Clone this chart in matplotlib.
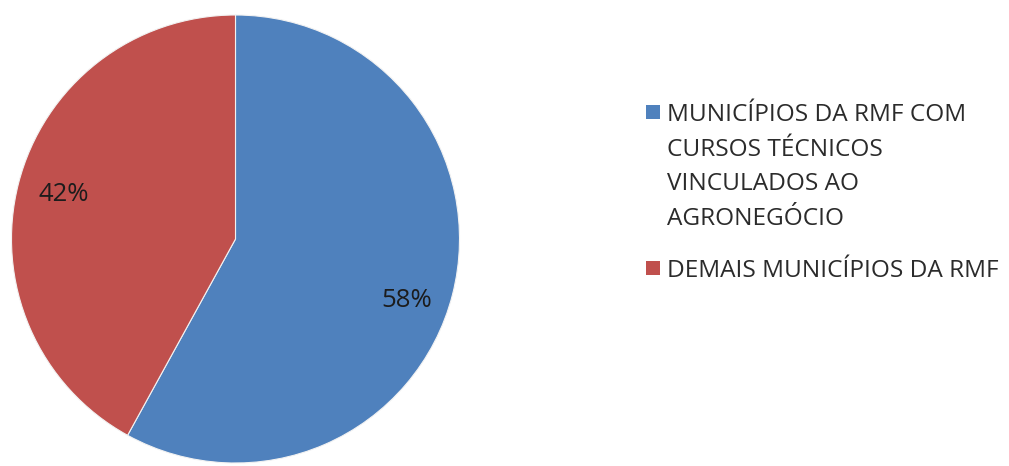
import numpy as np
import matplotlib
matplotlib.use("Agg")
import matplotlib.pyplot as plt
from matplotlib.patches import Rectangle

# Dados do gráfico
categorias = ["MUNICÍPIOS DA RMF COM\nCURSOS TÉCNICOS\nVINCULADOS AO\nAGRONEGÓCIO",
              "DEMAIS MUNICÍPIOS DA RMF"]
valores = [58, 42]
cores = ["#4F81BD", "#C0504D"]

plt.rcParams['font.family'] = ['Open Sans', 'DejaVu Sans']

W, H = 1009, 466
fig = plt.figure(figsize=(W / 100, H / 100), dpi=100)
fig.patch.set_facecolor("white")

# area da pizza em pixels: centro (235.5, 239), raio 224
cx, cy, r = 235.5, 239, 224
ax = fig.add_axes([(cx - r) / W, (H - cy - r) / H, 2 * r / W, 2 * r / H])
wedges, _, autotexts = ax.pie(valores, colors=cores, startangle=90, counterclock=False,
                              autopct='%1.0f%%', pctdistance=0.79, radius=1.0,
                              wedgeprops=dict(edgecolor="#f2f2f2", linewidth=0.8),
                              textprops=dict(fontsize=18.5, color="#1c1c1c"))
ax.set_xlim(-1, 1)
ax.set_ylim(-1, 1)
ax.set_aspect("equal")
ax.axis("off")

# rotulo de 58% fica um pouco mais abaixo
x0, y0 = autotexts[0].get_position()
autotexts[0].set_position((x0, y0 - 0.08))

# legenda desenhada a mao, texto em varias linhas
def px(x, y):
    return x / W, 1 - y / H

tops = [105, 261]
sq = 14
line_h = 34.7
for cat, cor, top in zip(categorias, cores, tops):
    fig.add_artist(Rectangle(px(646, top + sq), sq / W, sq / H,
                             transform=fig.transFigure, facecolor=cor, edgecolor="none"))
    for i, linha in enumerate(cat.split("\n")):
        fig.text(*px(667, top + 16 + i * line_h), linha, fontsize=17.6,
                 color="#2b2b2b", va="baseline", ha="left")

fig.savefig("out.png", dpi=100, facecolor="white")
